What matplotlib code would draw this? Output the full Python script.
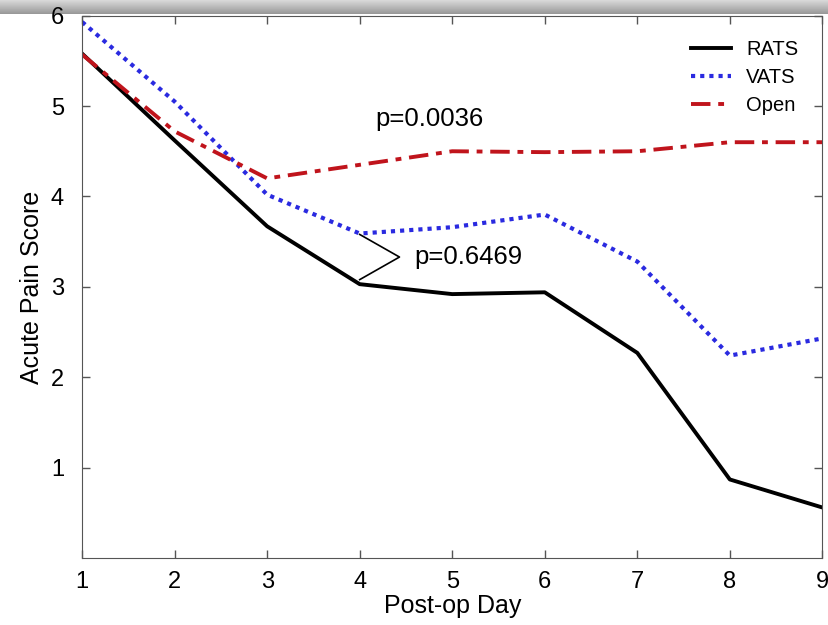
import matplotlib
matplotlib.use("Agg")
import matplotlib.pyplot as plt
import numpy as np

plt.rcParams["font.family"] = ["Liberation Sans", "DejaVu Sans"]

days = [1, 2, 3, 4, 5, 6, 7, 8, 9]
rats = [5.58, 4.62, 3.67, 3.03, 2.92, 2.94, 2.27, 0.87, 0.56]
vats = [5.93, 5.05, 4.02, 3.59, 3.66, 3.80, 3.28, 2.24, 2.43]
open_ = [5.57, 4.72, 4.20, 4.35, 4.50, 4.49, 4.50, 4.60, 4.60]

BLACK = "#000000"
BLUE = "#2a2ae0"
RED = "#c0141c"

fig = plt.figure(figsize=(8.29, 6.25), dpi=100)

# grey screenshot band along the top edge
band = fig.add_axes([0, 0.978, 1, 0.022])
band.imshow(np.linspace(0.85, 0.6, 20).reshape(-1, 1), cmap="gray", aspect="auto",
            vmin=0, vmax=1, extent=[0, 1, 0, 1])
band.axis("off")

ax = fig.add_axes([0.099, 0.107, 0.893, 0.868])
ax.plot(days, rats, color=BLACK, lw=2.8, label="RATS")
ax.plot(days, vats, color=BLUE, lw=3, linestyle=(0, (1, 1.2)), label="VATS")
ax.plot(days, open_, color=RED, lw=2.8, linestyle=(0, (5, 2, 1.5, 2)), label="Open")

ax.set_xlim(1, 9)
ax.set_ylim(0, 6)
ax.set_xticks(days)
ax.set_yticks([1, 2, 3, 4, 5, 6])
ax.tick_params(direction="in", top=True, right=True, length=6, width=1,
               labelsize=17, color="#555555")
ax.tick_params(axis="x", pad=9)
ax.tick_params(axis="y", pad=13)
for s in ax.spines.values():
    s.set_color("#555555")
ax.set_xlabel("Post-op Day", fontsize=18, labelpad=1)
ax.set_ylabel("Acute Pain Score", fontsize=18, labelpad=5)

ax.text(4.75, 4.86, "p=0.0036", fontsize=18.5, ha="center", va="center")
ax.text(4.59, 3.33, "p=0.6469", fontsize=18.5, ha="left", va="center")
ax.plot([4.0, 4.43, 4.0], [3.58, 3.33, 3.08], color=BLACK, lw=1.2)

ax.legend(loc="upper right", frameon=False, fontsize=14.5, handlelength=2.0,
          borderaxespad=0.8, labelspacing=0.45, handletextpad=0.75)

fig.savefig("out.png", dpi=100, facecolor="white")
